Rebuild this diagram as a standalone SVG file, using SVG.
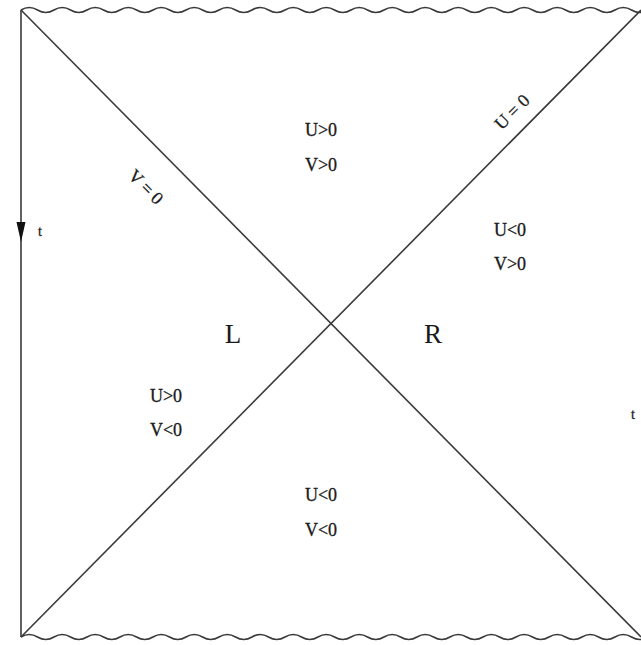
<svg xmlns="http://www.w3.org/2000/svg" width="641" height="645" viewBox="0 0 641 645">
<defs>
<style>
.ln{stroke:#3a3a3a;stroke-width:1.6;fill:none}
.tx{font-family:"Liberation Serif",serif;font-size:18px;fill:#1a1a1a;stroke:#1a1a1a;stroke-width:0.3;text-anchor:middle}
.big{font-family:"Liberation Serif",serif;font-size:27px;fill:#1a1a1a;text-anchor:middle}
</style>
<path id="wave" d="M0,0 q8.25,-5 16.5,0 t16.5,0 t16.5,0 t16.5,0 t16.5,0 t16.5,0 t16.5,0 t16.5,0 t16.5,0 t16.5,0 t16.5,0 t16.5,0 t16.5,0 t16.5,0 t16.5,0 t16.5,0 t16.5,0 t16.5,0 t16.5,0 t16.5,0 t16.5,0 t16.5,0 t16.5,0 t16.5,0 t16.5,0 t16.5,0 t16.5,0 t16.5,0 t16.5,0 t16.5,0 t16.5,0 t16.5,0 t16.5,0 t16.5,0 t16.5,0 t16.5,0 t16.5,0 t16.5,0" />
</defs>
<rect width="641" height="645" fill="#fff"/>
<g id="connectors">
<use href="#wave" class="ln" x="21" y="10"/>
<use href="#wave" class="ln" x="21" y="637"/>
<line class="ln" x1="21" y1="10" x2="21" y2="637"/>
<line class="ln" x1="21" y1="10" x2="641" y2="637"/>
<line class="ln" x1="21" y1="637" x2="641" y2="10"/>
<polygon points="16.5,222 25.5,222 21,242" fill="#111"/>
</g>
<g id="labels">
<text class="tx" x="40" y="236" style="font-size:14px">t</text>
<text class="tx" x="633" y="419" style="font-size:14px">t</text>
<text class="tx" x="146" y="193" transform="rotate(45 146 187)">V = 0</text>
<text class="tx" x="512" y="118" transform="rotate(-45 512 112)">U = 0</text>
<text class="tx" x="321" y="136">U&gt;0</text>
<text class="tx" x="321" y="171">V&gt;0</text>
<text class="tx" x="510" y="236">U&lt;0</text>
<text class="tx" x="510" y="270">V&gt;0</text>
<text class="big" x="233" y="343">L</text>
<text class="big" x="433" y="343">R</text>
<text class="tx" x="166" y="402">U&gt;0</text>
<text class="tx" x="166" y="436">V&lt;0</text>
<text class="tx" x="321" y="501">U&lt;0</text>
<text class="tx" x="321" y="536">V&lt;0</text>
</g>
</svg>
